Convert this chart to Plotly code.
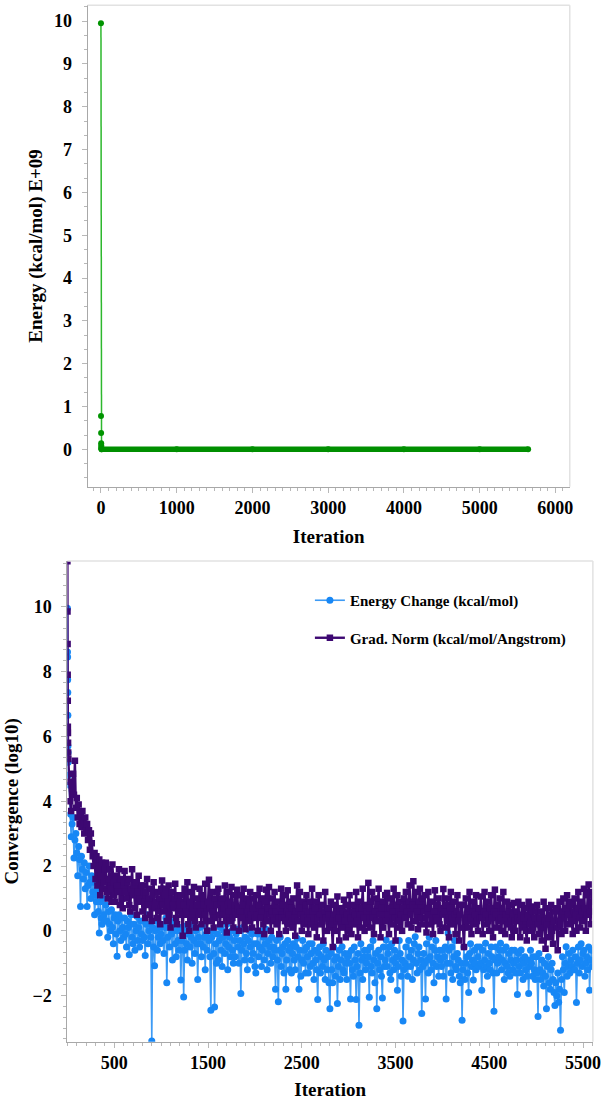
import plotly.graph_objects as go

# ---------------- data: top chart (energy, E+09 kcal/mol) ----------------
TOP_EARLY_ITER = [0, 1, 2, 3, 4, 5, 6, 8]
TOP_EARLY_ENERGY = [9.95, 0.78, 0.38, 0.14, 0.09, 0.04, 0.02, 0.0]
PLATEAU_ITER = [8, 1000, 2000, 3000, 4000, 5000, 5640]
PLATEAU_ENERGY = [0.0, 0.0, 0.0, 0.0, 0.0, 0.0, 0.0]

# ---------------- data: bottom chart (convergence, log10) ----------------
EARLY_ITER = [0, 1, 2, 3, 4, 5, 6, 7, 8]
GRID_ITER = list(range(10, 5601, 10))
ITER = EARLY_ITER + GRID_ITER

ENERGY_CHANGE = [
    9.95, 8.6, 8.45, 7.75, 7.35, 6.65, 5.7, 5.5, 5.2,
    4.8, 4.5, 3.6, 2.9, 3.3, 3.5, 2.25, 2.8, 3.0, 2.4, 1.7, 2.6, 2.2, 0.75, 2.3, 1.9, 1.6, 2.1, 1.3, 1.8,
    0.75, 1.4, 2.0, 1.5, 1.0, 1.7, 1.2, 1.5, 0.5, 1.1, 0.9, 1.3, 0.6, -0.07, 0.9, 0.4, 0.2, 1.0, 0.5, 0.3,
    0.8, 0.3, -0.2, 0.6, 0.2, 0.0, 0.65, 0.1, -0.4, 0.4, 0.5, -0.1, -0.78, 0.3, 0.5, 0.0, -0.3, 0.4, 0.1, -0.2,
    0.4, -0.1, -0.5, 0.3, 0.1, -0.74, 0.2, 0.5, -0.2, -0.4, 0.2, -0.6, 0.0, 0.45, -0.3, 0.1, -0.5, 0.3, -0.1, -0.3,
    0.3, -0.2, -0.76, 0.2, 0.5, -0.4, 0.0, 0.2, -0.2, -3.4, 0.1, -0.5, -1.08, 0.0, 0.3, -0.6, -0.2, 0.1, -0.4, -0.1,
    0.2, -0.3, -0.7, 0.1, 0.4, -1.6, -0.2, 0.1, -0.5, 0.3, -0.1, -0.9, 0.0, 0.2, -0.4, -0.8, 0.0, -0.3, -0.6, 0.1,
    -1.52, -0.3, 0.0, -2.04, -0.6, 0.15, -0.4, -0.9, -0.1, 0.1, -0.5, -0.2, -1.0, 0.2, -0.3, -0.7, 0.0, -0.4, -1.5, -0.2,
    0.1, -0.4, -0.8, 0.15, -0.5, -0.2, -1.2, -0.1, -0.6, 0.0, -0.3, -0.8, -2.45, -0.2, 0.0, -0.7, -2.35, -0.4, -1.0, -0.1,
    -0.9, -0.3, 0.1, -0.6, -1.1, -0.2, 0.0, -0.7, -0.4, 0.2, -1.2, -0.5, -0.2, -0.8, 0.0, -0.6, -1.0, -0.3, -0.8, -0.1,
    0.05, -0.5, -1.0, -0.3, -1.93, -0.6, 0.1, -0.4, -0.9, -0.2, -0.7, -1.2, -0.3, 0.0, -0.5, -0.9, -0.1, -0.7, -0.4, -1.1,
    -1.3, -0.4, -0.1, -0.8, -0.5, 0.0, -1.1, -0.6, -0.2, -0.9, -0.4, 0.05, -1.2, -0.7, -0.3, -0.5, -1.0, -0.2, -0.8, -0.5,
    -0.6, -1.8, -0.3, -0.9, -2.19, -0.6, -0.2, -1.1, -0.7, -0.5, -1.3, -0.4, -1.8, -0.9, -0.3, -0.6, -1.2, -0.5, -1.3, -0.7,
    -0.4, -0.9, -1.2, -0.5, -0.23, -0.8, -1.8, -0.6, -1.4, -0.9, -0.3, -1.0, -0.6, -1.3, -0.5, -0.8, -1.3, -0.4, -1.1, -0.7,
    -0.4, -1.0, -1.5, -0.6, -0.9, -1.2, -2.12, -0.7, -0.5, -1.3, -0.8, -1.1, -0.4, -0.9, -1.5, -0.6, -1.2, -0.8, -1.6, -2.4,
    -0.7, -1.2, -1.6, -0.5, -0.9, -1.4, -0.8, -2.24, -1.1, -0.6, -1.5, -0.9, -0.49, -1.2, -1.3, -0.7, -1.0, -1.5, -0.8, -0.7,
    -1.0, -2.1, -0.6, -1.2, -1.4, -0.5, -0.9, -2.12, -1.1, -0.7, -2.91, -1.3, -0.4, -0.9, -1.5, -0.8, -0.6, -1.2, -1.0, -0.6,
    -0.8, -2.05, -0.5, -1.1, -1.3, -0.3, -0.9, -1.6, -0.7, -2.4, -1.0, -0.6, -1.2, -0.8, -1.4, -2.07, -0.5, -1.1, -0.9, -0.28,
    -1.1, -0.7, -0.5, -1.3, -1.5, -0.4, -0.9, -1.2, -0.6, -1.0, -0.8, -1.83, -1.1, -0.3, -0.7, -1.4, -0.9, -2.78, -1.2, -1.0,
    -0.5, -1.1, -1.4, -0.3, -0.8, -1.1, -0.6, -1.5, -0.9, -0.4, -0.18, -1.0, -1.3, -0.7, -0.5, -1.2, -0.9, -2.55, -1.1, -0.7,
    -1.0, -2.1, -0.4, -0.9, -1.3, -0.2, -0.8, -1.2, -0.5, -1.0, -1.6, -0.6, -0.3, -1.1, -0.8, -1.4, -0.6, -0.9, -1.1, -0.6,
    -1.4, -0.8, -0.5, -2.1, -1.0, -0.07, -0.6, -1.0, -1.3, -0.5, -1.5, -0.8, -0.3, -1.1, -1.2, -0.7, -0.9, -1.4, -1.6, -1.0,
    -2.76, -1.2, -0.5, -1.5, -1.0, -0.8, -1.3, -1.9, -0.7, -0.4, -1.1, -0.9, -1.52, -0.6, -1.0, -1.2, -0.5, -0.8, -1.1, -0.5,
    -1.0, -1.83, -0.6, -1.2, -0.9, -0.38, -1.1, -1.4, -0.7, -1.0, -1.2, -0.5, -0.8, -1.3, -2.48, -0.9, -0.5, -1.3, -1.0, -0.8,
    -0.6, -0.38, -1.2, -0.9, -0.6, -1.5, -1.0, -0.5, -1.1, -1.3, -0.7, -1.4, -0.9, -0.6, -1.2, -1.0, -0.6, -1.3, -0.9, -1.96,
    -0.7, -1.1, -1.3, -0.59, -0.9, -1.5, -1.0, -0.8, -1.2, -1.4, -0.9, -1.93, -1.1, -0.6, -1.0, -1.4, -0.8, -1.2, -1.5, -0.8,
    -1.3, -2.64, -0.7, -1.2, -1.5, -0.9, -1.3, -1.7, -1.0, -1.4, -2.4, -1.1, -0.8, -1.6, -1.8, -1.2, -1.0, -1.5, -1.9, -2.3,
    -1.6, -2.0, -1.3, -2.2, -1.8, -3.07, -1.5, -0.8, -1.2, -1.9, -1.0, -0.49, -1.4, -1.1, -0.7, -1.3, -0.9, -1.1, -0.6, -1.2,
    -1.2, -0.8, -2.21, -1.0, -0.5, -1.3, -0.9, -0.4, -1.1, -0.7, -0.6, -1.4, -1.0, -0.8, -1.2, -0.5, -1.83, -0.9, -0.6, -1.1,
]

GRAD_NORM = [
    11.4, 9.85, 8.85, 7.9, 7.1, 6.3, 6.1, 5.8, 5.5,
    5.3, 4.6, 4.0, 3.7, 4.4, 4.85, 4.2, 5.25, 3.8, 4.1, 3.5, 3.9, 3.3, 3.6, 3.2, 3.7, 3.4, 3.0, 3.5, 3.1,
    3.3, 2.8, 3.1, 2.5, 3.0, 2.7, 2.3, 2.0, 2.4, 1.6, 2.3, 1.4, 1.9, 2.2, 1.1, 1.7, 2.1, 1.3, 1.5, 1.9,
    2.1, 1.2, 1.0, 1.6, 1.9, 1.3, 0.9, 2.05, 1.5, 1.1, 0.9, 1.7, 1.4, 1.2, 1.9, 0.8, 1.6, 1.0, 0.7, 1.5,
    1.85, 1.2, 1.0, 1.5, 1.6, 0.8, 0.6, 1.3, 1.9, 1.1, 1.4, 0.7, 1.5, 0.5, 1.2, 1.7, 1.0, 0.9, 1.4, 0.6,
    1.4, 0.9, 0.4, 1.2, 1.6, 0.8, 1.0, 0.5, 1.3, 0.3, 1.1, 1.5, 0.7, 0.9, 0.4, 1.2, 0.6, 1.0, 0.2, 1.3,
    1.55, 0.8, 0.6, 1.1, 1.3, 0.3, 0.9, 1.4, 0.5, 0.1, 1.2, 0.8, 0.7, 1.0, 1.45, 0.4, 0.2, 1.1, 0.6, 0.9,
    1.1, 0.5, -0.15, 0.8, 1.3, 0.6, 0.5, 1.5, 0.2, 0.0, 0.9, 1.2, 0.4, 0.7, 1.35, 0.3, 0.1, 0.8, 1.0, 0.5,
    1.3, 0.6, 0.2, 1.1, 0.8, 0.5, 1.45, 0.3, 0.0, 0.9, 1.58, 0.7, 0.3, 1.2, 0.6, 0.1, 1.0, 0.4, 0.8, 1.2,
    1.3, 0.5, 0.2, 0.9, 1.0, 0.5, 0.7, 1.4, 0.3, -0.05, 1.2, 0.6, 0.3, 0.9, 1.35, 0.4, 0.1, 0.8, 1.1, 0.5,
    1.27, 0.7, 0.0, 0.6, 1.1, 0.4, 0.8, 1.3, 0.2, 0.05, 1.0, 0.6, 0.3, 0.9, 1.2, 0.5, 0.1, 0.7, 1.0, 0.4,
    1.1, 0.5, 0.0, 0.8, 1.3, 0.4, 0.6, 1.0, 0.2, -0.1, 0.9, 1.27, 0.3, 0.7, 1.35, 0.5, 0.0, 0.6, 1.0, 0.3,
    1.2, 0.6, 0.2, 0.9, 0.4, -0.1, 0.7, 1.3, 0.4, 0.8, 1.1, 0.3, 0.0, 0.6, 1.25, 0.5, 0.2, 0.9, 0.7, 0.1,
    1.0, 0.4, -0.15, 0.6, 1.4, 0.3, 0.7, 1.2, 0.5, 0.0, 0.9, 0.4, 0.2, 0.8, 1.1, 0.3, -0.1, 0.6, 0.9, 0.2,
    1.3, 0.6, 0.1, 0.7, 0.9, -0.2, 0.4, 1.1, 0.5, 0.2, 0.8, 0.3, -0.3, 0.6, 1.2, 0.4, 0.0, 0.7, 0.5, 0.1,
    0.9, 0.2, -0.5, 0.5, 0.8, 0.0, 0.3, 1.06, 0.4, -0.3, 0.7, 0.2, 0.1, 0.6, 0.96, 0.3, -0.2, 0.5, 0.8, 0.0,
    1.1, 0.4, -0.1, 0.6, 0.8, 0.2, 0.5, 1.2, 0.3, -0.2, 0.9, 0.5, 0.1, 0.7, 1.3, 0.4, 0.0, 0.8, 0.6, 0.2,
    1.48, 0.7, 0.1, 0.9, 1.2, 0.4, -0.1, 0.6, 1.0, 0.3, 0.8, 1.3, 0.5, -0.2, 0.7, 0.9, 0.1, 0.5, 1.1, 0.3,
    1.17, 0.5, -0.1, 0.7, 1.0, 0.2, 0.6, 1.3, 0.4, -0.3, 0.8, 1.1, 0.3, 0.1, 0.9, 0.5, 0.0, 0.7, 1.0, 0.4,
    1.2, 0.6, 0.2, 0.9, 1.4, 0.5, 0.1, 0.8, 1.53, 0.7, 0.3, 1.2, 0.6, 0.05, 0.9, 1.3, 0.4, 0.2, 1.0, 0.6,
    1.1, 0.4, -0.05, 0.7, 1.2, 0.5, 0.2, 0.9, 0.3, -0.1, 0.6, 1.25, 0.4, 0.3, 0.8, 1.0, 0.2, 0.0, 0.7, 0.5,
    1.29, 0.6, 0.1, 0.8, 1.0, 0.3, -0.2, 0.7, 1.2, 0.4, 0.2, 0.9, 0.5, -0.1, 0.6, 1.1, 0.3, -0.3, 0.5, 0.8,
    0.8, 0.1, -0.5, 0.4, 1.0, 0.3, 0.1, 0.7, 1.2, 0.4, -0.1, 0.6, 0.9, 0.2, 0.5, 1.1, 0.3, 0.0, 0.7, 0.4,
    1.06, 0.4, -0.1, 0.6, 1.2, 0.5, 0.2, 0.9, 0.3, 0.0, 0.7, 1.1, 0.4, -0.2, 0.6, 1.27, 0.5, 0.1, 0.8, 0.3,
    1.0, 0.4, 0.0, 0.7, 1.2, 0.3, -0.1, 0.5, 0.9, 0.2, 0.6, 0.8, 0.1, -0.2, 0.5, 0.86, 0.3, 0.0, 0.6, 0.4,
    0.9, 0.3, -0.2, 0.5, 0.8, 0.1, 0.4, 0.7, 0.0, -0.3, 0.5, 0.9, 0.2, 0.0, 0.6, 0.75, 0.1, -0.2, 0.4, 0.6,
    0.8, 0.2, -0.1, 0.4, 0.6, -0.3, 0.1, 0.9, 0.3, -0.55, 0.2, 0.7, 0.4, -0.2, 0.5, 0.8, 0.0, -0.4, 0.3, 0.6,
    0.7, 0.1, -0.6, 0.3, 0.9, 0.2, -0.1, 0.6, 1.0, 0.4, 0.0, 0.7, 1.1, 0.5, 0.2, 0.8, 0.9, 0.3, -0.1, 0.6,
    1.0, 0.5, 0.0, 0.7, 1.2, 0.4, 0.1, 0.9, 0.6, 0.3, 1.3, 0.7, 0.0, 0.5, 1.1, 1.43, 0.6, 0.2, 0.9, 1.2,
]

assert len(ENERGY_CHANGE) == len(ITER) and len(GRAD_NORM) == len(ITER)

TOP_X_TICKS = [0, 1000, 2000, 3000, 4000, 5000, 6000]
BOTTOM_X_TICKS = [500, 1500, 2500, 3500, 4500, 5500]

# ---------------- styling ----------------
W, H = 613, 1102
FONT = "Liberation Serif"
TICKFONT = dict(family=FONT, size=18, color="black", weight="bold")
TITLEFONT = dict(family=FONT, size=19, color="black", weight="bold")
AXIS_LINE = "#a8a8a8"
TICK_COL = "#b8b8b8"
FRAME = "#e2e2e2"

fig = go.Figure()

fig.add_trace(go.Scatter(
    x=TOP_EARLY_ITER, y=TOP_EARLY_ENERGY, mode="lines+markers",
    line=dict(color="#2db82d", width=1.5),
    marker=dict(color="#009400", size=6),
    xaxis="x", yaxis="y", showlegend=False))
fig.add_trace(go.Scatter(
    x=PLATEAU_ITER, y=PLATEAU_ENERGY, mode="lines+markers",
    line=dict(color="#008f00", width=5.5),
    marker=dict(color="#008f00", size=6),
    xaxis="x", yaxis="y", showlegend=False))

fig.add_trace(go.Scatter(
    x=ITER, y=ENERGY_CHANGE, mode="lines+markers",
    name="Energy Change (kcal/mol)", legendgroup="ec",
    line=dict(color="#3d9bf5", width=1.6, simplify=False),
    marker=dict(color="#1787f5", size=7, symbol="circle"),
    xaxis="x2", yaxis="y2"))
fig.add_trace(go.Scatter(
    x=ITER, y=GRAD_NORM, mode="lines+markers",
    name="Grad. Norm (kcal/mol/Angstrom)", legendgroup="gn",
    line=dict(color="#3d0872", width=2.4, simplify=False),
    marker=dict(color="#3d0872", size=6.5, symbol="square"),
    xaxis="x2", yaxis="y2"))

common_axis = dict(
    showline=True, linecolor=AXIS_LINE, linewidth=1,
    ticks="outside", ticklen=5, tickcolor=TICK_COL, tickwidth=1,
    tickfont=TICKFONT, showgrid=False, zeroline=False,
)

fig.update_layout(
    width=W, height=H,
    margin=dict(l=0, r=0, t=0, b=0),
    paper_bgcolor="white", plot_bgcolor="white",
    xaxis=dict(
        domain=[88.7 / W, 577.3 / W], anchor="y",
        range=[-177, 6190], tickvals=TOP_X_TICKS,
        minor=dict(dtick=100, tick0=0, ticks="outside", ticklen=3, tickcolor=TICK_COL),
        title=dict(text="Iteration", font=TITLEFONT, standoff=12),
        **common_axis),
    yaxis=dict(
        domain=[1 - 486.7 / H, 1 - 5.3 / H], anchor="x",
        range=[-0.874, 10.37], dtick=1, tick0=0,
        minor=dict(dtick=1 / 3, tick0=0, ticks="outside", ticklen=3, tickcolor=TICK_COL),
        ticklabelstandoff=6,
        title=dict(text="Energy (kcal/mol) E+09", font=TITLEFONT, standoff=6),
        **common_axis),
    xaxis2=dict(
        domain=[68.3 / W, 600.7 / W], anchor="y2",
        range=[0, 5605], tickvals=BOTTOM_X_TICKS,
        minor=dict(dtick=100, tick0=0, ticks="outside", ticklen=3, tickcolor=TICK_COL),
        title=dict(text="Iteration", font=TITLEFONT, standoff=10),
        **common_axis),
    yaxis2=dict(
        domain=[1 - 1041.7 / H, 1 - 561 / H], anchor="x2",
        range=[-3.42, 11.41], dtick=2, tick0=0,
        minor=dict(dtick=1 / 3, tick0=0, ticks="outside", ticklen=3, tickcolor=TICK_COL),
        ticklabelstandoff=6,
        title=dict(text="Convergence (log10)", font=TITLEFONT, standoff=8),
        **common_axis),
    legend=dict(
        x=314 / W, y=1 - 584 / H, xanchor="left", yanchor="top",
        font=dict(family=FONT, size=15, color="black", weight="bold"),
        bgcolor="rgba(0,0,0,0)", traceorder="grouped", tracegroupgap=15,
        itemwidth=30,
    ),
    shapes=[
        dict(type="line", xref="x domain", yref="y domain", x0=0, x1=1, y0=1, y1=1,
             line=dict(color=FRAME, width=1.5)),
        dict(type="line", xref="x domain", yref="y domain", x0=1, x1=1, y0=0, y1=1,
             line=dict(color=FRAME, width=1.5)),
        dict(type="line", xref="x2 domain", yref="y2 domain", x0=0, x1=1, y0=1, y1=1,
             line=dict(color=FRAME, width=1.5)),
        dict(type="line", xref="x2 domain", yref="y2 domain", x0=1, x1=1, y0=0, y1=1,
             line=dict(color=FRAME, width=1.5)),
    ],
)

fig.write_html("out.html")
